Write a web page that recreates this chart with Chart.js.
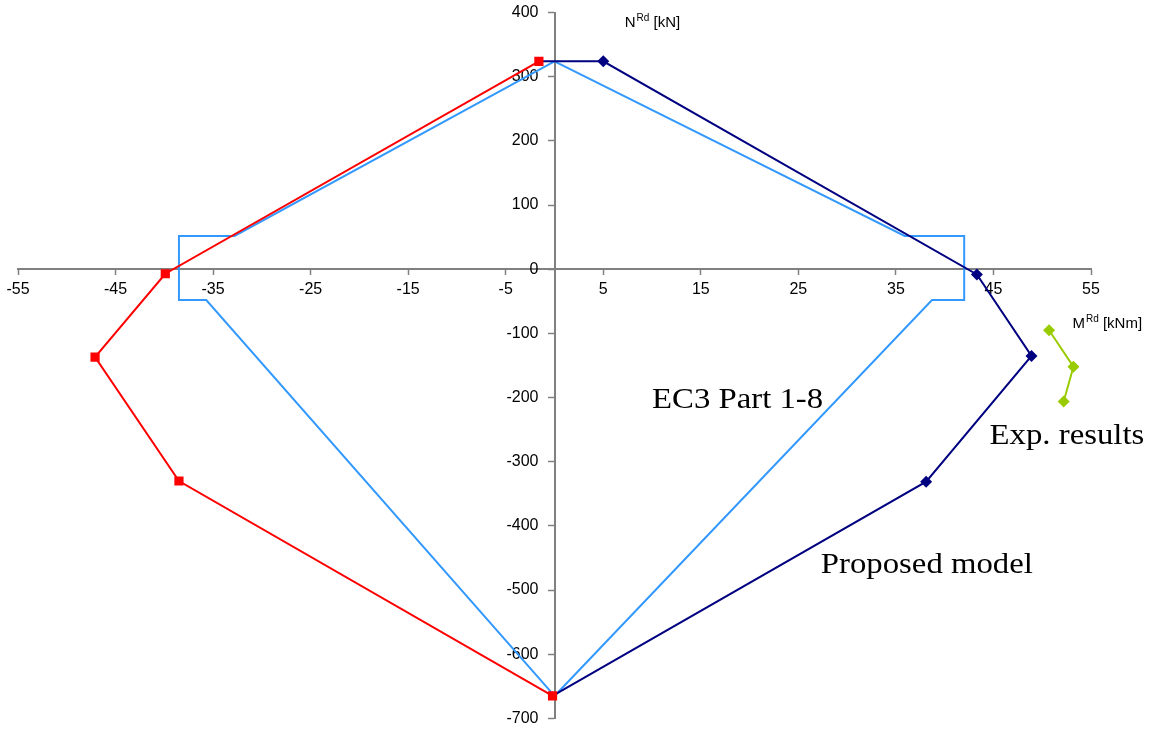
<!DOCTYPE html>
<html>
<head>
<meta charset="utf-8">
<script src="https://cdn.jsdelivr.net/npm/chart.js@4"></script>
<style>
  body { margin: 0; background: #fff; }
  #wrap { width: 1150px; height: 731px; position: relative; }
</style>
</head>
<body>
<div id="wrap"><canvas id="chart"></canvas></div>
<script>
// proposed model, right branch (M, N)
const modelRightM = [-1.6, 5.0, 43.3, 48.9, 38.1, -0.2];
const modelRightN = [324, 324, -8, -135, -331, -665];
// proposed model, left branch
const modelLeftM = [-1.6, -39.9, -47.1, -38.5, -0.2];
const modelLeftN = [324, -7, -137, -330, -665];
// EC3 Part 1-8 interaction curve
const ec3M = [0, -35.7, -38.5, -38.5, -32.8, 0, 35.9, 42.0, 42.0, 38.7, 0];
const ec3N = [-665, -48, -48, 52, 52, 324, 52, 52, -48, -48, -665];
// experimental results
const expM = [50.7, 53.2, 52.2];
const expN = [-95, -152, -206];

const xTicks = [-55, 55, 10];   // min, max, step
const yTicks = [-700, 400, 100];

const notes = [
  { text: 'EC3 Part 1-8', m: 10.0, n: -217 },
  { text: 'Exp. results', m: 44.6, n: -273 },
  { text: 'Proposed model', m: 27.3, n: -474 }
];
const axisTitles = [
  { main: 'N', sup: 'Rd', rest: ' [kN]', m: 7.2, n: 377 },
  { main: 'M', sup: 'Rd', rest: ' [kNm]', m: 53.1, n: -92 }
];

function pts(ms, ns) {
  return ms.map((m, i) => ({ x: m, y: ns[i] }));
}

const textPlugin = {
  id: 'texts',
  afterDraw(chart) {
    const ctx = chart.ctx;
    const sx = chart.scales.x, sy = chart.scales.y;
    ctx.save();
    ctx.fillStyle = '#000';
    ctx.textBaseline = 'alphabetic';
    ctx.textAlign = 'left';
    notes.forEach(a => {
      const px = sx.getPixelForValue(a.m), py = sy.getPixelForValue(a.n);
      ctx.save();
      ctx.translate(px, py);
      ctx.scale(1.13, 1);
      ctx.font = '29px "Liberation Serif", "Times New Roman", serif';
      ctx.fillText(a.text, 0, 0);
      ctx.restore();
    });
    axisTitles.forEach(a => {
      let px = sx.getPixelForValue(a.m);
      const py = sy.getPixelForValue(a.n);
      ctx.font = '15px "Liberation Sans", Arial, sans-serif';
      ctx.fillText(a.main, px, py);
      px += ctx.measureText(a.main).width + 1;
      ctx.font = '10px "Liberation Sans", Arial, sans-serif';
      ctx.fillText(a.sup, px, py - 6);
      px += ctx.measureText(a.sup).width;
      ctx.font = '15px "Liberation Sans", Arial, sans-serif';
      ctx.fillText(a.rest, px, py);
    });
    ctx.restore();
  }
};

const tickFont = { family: '"Liberation Sans", Arial, sans-serif', size: 16 };

const ctx = document.getElementById('chart').getContext('2d');
const chart = new Chart(ctx, {
  type: 'scatter',
  data: {
    // first dataset is drawn on top
    datasets: [
      {
        label: 'Proposed model (-)',
        data: pts(modelLeftM, modelLeftN),
        showLine: true,
        borderColor: '#FF0000',
        backgroundColor: '#FF0000',
        borderWidth: 2,
        pointStyle: 'rect',
        pointRadius: 6.5,
        pointBorderWidth: 0
      },
      {
        label: 'Proposed model (+)',
        data: pts(modelRightM, modelRightN),
        showLine: true,
        borderColor: '#000080',
        backgroundColor: '#000080',
        borderWidth: 2,
        pointStyle: 'rectRot',
        pointRadius: [0, 6, 6, 6, 6, 0],
        pointBorderWidth: 0
      },
      {
        label: 'Exp. results',
        data: pts(expM, expN),
        showLine: true,
        borderColor: '#99CC00',
        backgroundColor: '#99CC00',
        borderWidth: 2,
        pointStyle: 'rectRot',
        pointRadius: 6,
        pointBorderWidth: 0
      },
      {
        label: 'EC3 Part 1-8',
        data: pts(ec3M, ec3N),
        showLine: true,
        borderColor: '#3399FF',
        borderWidth: 2,
        pointRadius: 0,
        tension: 0
      }
    ]
  },
  options: {
    responsive: true,
    maintainAspectRatio: false,
    animation: false,
    layout: { autoPadding: false, padding: { left: 18, right: 59, top: 10, bottom: 11 } },
    plugins: {
      legend: { display: false },
      tooltip: { enabled: false }
    },
    scales: {
      x: {
        type: 'linear',
        position: { y: 0 },
        min: xTicks[0],
        max: xTicks[1],
        ticks: {
          stepSize: xTicks[2],
          color: '#000',
          font: tickFont,
          padding: 6,
          maxRotation: 0,
          autoSkip: false
        },
        grid: { drawOnChartArea: false, drawTicks: true, tickLength: 5, color: '#808080', tickWidth: 1.5 },
        border: { color: '#808080', width: 2 }
      },
      y: {
        type: 'linear',
        position: { x: 0 },
        min: yTicks[0],
        max: yTicks[1],
        ticks: {
          stepSize: yTicks[2],
          color: '#000',
          font: tickFont,
          autoSkip: false,
          // keep labels clear of the axis line
          callback: v => v + '\u2002\u2002'
        },
        grid: { drawOnChartArea: false, drawTicks: true, tickLength: 6, color: '#808080', tickWidth: 1.5 },
        border: { color: '#808080', width: 2 }
      }
    }
  },
  plugins: [textPlugin]
});
</script>
</body>
</html>
